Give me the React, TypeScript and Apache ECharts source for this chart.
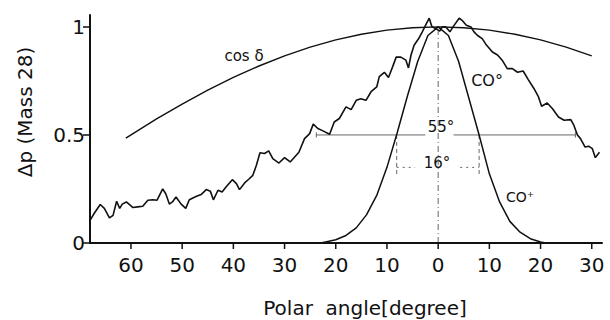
import React, { useEffect, useRef } from "react";
import * as echarts from "echarts";

// Polar angle ticks (degrees)
const xTicks = [-60, -50, -40, -30, -20, -10, 0, 10, 20, 30];
const yTicks = [0, 0.5, 1];

// CO° (measured, noisy) [angle, Δp]
const co0X = [-68, -67.1, -66, -65.2, -64.2, -63.5, -62.8, -62.2, -61.7, -60.9, -59.6, -58.7, -57.7, -56.7, -55.7, -54.9, -53.8, -53.2, -52.5, -51.9, -51.2, -50.2, -49.3, -48.6, -47.3, -46.3, -45.3, -44.5, -43.9, -43, -42.2, -41.4, -40.2, -39.4, -38.8, -37.8, -37, -36.2, -35.5, -34.8, -33.9, -33.1, -32.3, -31.1, -30, -28.9, -27.2, -26.1, -25.1, -24.4, -23.5, -22.6, -21.2, -20.3, -19.3, -18, -17, -16, -15.1, -14.1, -13.1, -12, -11.5, -10.5, -9.7, -8.9, -8.2, -7.3, -6.3, -5.8, -5.3, -4.7, -3.8, -3.1, -2.3, -1.75, -1.2, -0.3, 0.3, 0.8, 1.5, 2.3, 2.9, 4.1, 4.7, 5.5, 6.4, 7.0, 7.7, 8.6, 9.3, 10.6, 11.6, 12.5, 13.5, 14.5, 15.5, 16.6, 17.6, 18.7, 19.6, 20.2, 21.3, 22.3, 23.5, 24.6, 25.9, 26.5, 27.2, 27.8, 28.7, 29.4, 30.1, 30.7, 31.5];
const co0Y = [0.105, 0.14, 0.178, 0.16, 0.116, 0.128, 0.193, 0.16, 0.18, 0.19, 0.164, 0.167, 0.17, 0.198, 0.2, 0.198, 0.25, 0.228, 0.18, 0.19, 0.213, 0.18, 0.16, 0.2, 0.215, 0.224, 0.247, 0.24, 0.2, 0.244, 0.236, 0.26, 0.293, 0.275, 0.247, 0.278, 0.295, 0.313, 0.36, 0.418, 0.414, 0.426, 0.39, 0.37, 0.395, 0.375, 0.42, 0.483, 0.506, 0.55, 0.53, 0.52, 0.503, 0.56, 0.576, 0.63, 0.617, 0.66, 0.668, 0.66, 0.7, 0.722, 0.77, 0.79, 0.766, 0.815, 0.86, 0.86, 0.846, 0.81, 0.87, 0.915, 0.946, 0.977, 1.015, 1.04, 1.0, 0.99, 0.98, 1.0, 1.0, 0.977, 1.0, 1.04, 1.03, 1.008, 1.0, 0.977, 0.96, 0.946, 0.92, 0.884, 0.87, 0.846, 0.807, 0.807, 0.79, 0.796, 0.756, 0.715, 0.676, 0.633, 0.648, 0.622, 0.583, 0.568, 0.571, 0.545, 0.5, 0.483, 0.444, 0.448, 0.437, 0.395, 0.42];

// CO+ profile
const coPX = [-23, -22, -20, -18, -16, -14, -12, -10, -8, -6, -4, -2, 0, 2, 4, 6, 8, 10, 12, 14, 16, 18, 20, 21];
const coPY = [0, 0.005, 0.015, 0.035, 0.07, 0.13, 0.22, 0.35, 0.51, 0.68, 0.84, 0.96, 1.0, 0.96, 0.84, 0.67, 0.5, 0.32, 0.19, 0.1, 0.05, 0.02, 0.005, 0];

// cos δ curve
const cosX = [-61, -55, -50, -45, -40, -35, -30, -25, -20, -15, -10, -5, 0, 5, 10, 15, 20, 25, 30];
const cosY = [0.485, 0.574, 0.643, 0.707, 0.766, 0.819, 0.866, 0.906, 0.94, 0.966, 0.985, 0.996, 1.0, 0.996, 0.985, 0.966, 0.94, 0.906, 0.866];

// Width markers
const fwhm55 = [-23.8, 26.8];
const fwhm16 = [-8.1, 8.0];
const halfLevel = 0.5;
const dimLevel16 = 0.35;
const dropTo16 = 0.31;
const centerTop = 0.98;
const xRange = [-68, 32];

const zip = (xs: number[], ys: number[]) => xs.map((x, i) => [x, ys[i]]);

const FONT = "DejaVu Sans";

export default function App() {
  const ref = useRef<HTMLDivElement>(null);
  useEffect(() => {
    if (!ref.current) return;
    const chart = echarts.init(ref.current, null, { renderer: "svg" });
    const black = "#111";
    const grey = "#666";
    const lineSeries = (data: number[][], style: any, z = 2) => ({
      type: "line",
      data,
      showSymbol: false,
      symbol: "none",
      lineStyle: style,
      z,
      silent: true,
    });
    const textEls: any[] = [
      { type: "text", x: 244, y: 56, style: { text: "cos δ", font: `15px '${FONT}'`, fill: black, align: "center", verticalAlign: "middle" } },
      { type: "text", x: 487, y: 80, style: { text: "CO°", font: `16px '${FONT}'`, fill: black, align: "center", verticalAlign: "middle" } },
      { type: "text", x: 441, y: 127, style: { text: "55°", font: `15px '${FONT}'`, fill: black, align: "center", verticalAlign: "middle" } },
      { type: "text", x: 437, y: 163, style: { text: "16°", font: `15px '${FONT}'`, fill: black, align: "center", verticalAlign: "middle" } },
      { type: "text", x: 520, y: 197, style: { text: "CO⁺", font: `14px '${FONT}'`, fill: black, align: "center", verticalAlign: "middle" } },
      { type: "text", x: 365, y: 308, style: { text: "Polar  angle[degree]", font: `20px '${FONT}'`, fill: black, align: "center", verticalAlign: "middle" } },
      { type: "text", x: 25, y: 112, rotation: Math.PI / 2, style: { text: "Δp (Mass 28)", font: `20px '${FONT}'`, fill: black, align: "center", verticalAlign: "middle" } },
    ];
    chart.setOption({
      animation: false,
      grid: { left: 90, right: 8, top: 15, bottom: 77 },
      xAxis: {
        type: "value",
        min: xRange[0],
        max: xRange[1],
        splitLine: { show: false },
        axisLine: { show: true, onZero: false, lineStyle: { color: black, width: 2 } },
        axisTick: { show: false },
        axisLabel: {
          customValues: xTicks,
          formatter: (v: number) => String(Math.abs(v)),
          fontSize: 20,
          fontFamily: FONT,
          color: black,
          margin: 12,
        },
      },
      yAxis: {
        type: "value",
        min: 0,
        max: 1.055,
        splitLine: { show: false },
        axisLine: { show: true, onZero: false, lineStyle: { color: black, width: 2 } },
        axisTick: { show: true, customValues: yTicks, length: 7, lineStyle: { color: black, width: 1.5 } },
        axisLabel: {
          customValues: yTicks,
          formatter: (v: number) => String(v),
          fontSize: 20,
          fontFamily: FONT,
          color: black,
          margin: 5,
        },
      },
      series: [
        lineSeries(zip(cosX, cosY), { color: black, width: 1.4 }),
        lineSeries(zip(coPX, coPY), { color: black, width: 1.5 }),
        lineSeries(zip(co0X, co0Y), { color: black, width: 1.6 }),
        lineSeries([[fwhm55[0], halfLevel], [-2.5, halfLevel]], { color: grey, width: 1 }, 1),
        lineSeries([[3, halfLevel], [fwhm55[1], halfLevel]], { color: grey, width: 1 }, 1),
        lineSeries([[fwhm55[0], halfLevel - 0.012], [fwhm55[0], halfLevel + 0.012]], { color: grey, width: 1 }, 1),
        lineSeries([[fwhm55[1], halfLevel - 0.012], [fwhm55[1], halfLevel + 0.012]], { color: grey, width: 1 }, 1),
        lineSeries([[fwhm16[0], halfLevel], [fwhm16[0], dropTo16]], { color: grey, width: 1, type: [4, 3] }, 1),
        lineSeries([[fwhm16[1], halfLevel], [fwhm16[1], dropTo16]], { color: grey, width: 1, type: [4, 3] }, 1),
        lineSeries([[fwhm16[0], dimLevel16], [-4.5, dimLevel16]], { color: grey, width: 1, type: [2, 4] }, 1),
        lineSeries([[4.3, dimLevel16], [fwhm16[1], dimLevel16]], { color: grey, width: 1, type: [2, 4] }, 1),
        lineSeries([[0, 0], [0, centerTop]], { color: grey, width: 1, type: [6, 3, 1, 3] }, 1),
      ],
      graphic: textEls,
    });

    // x-axis baseline and ticks, positioned through the chart's own scales
    const toPx = (x: number, y: number) => chart.convertToPixel({ gridIndex: 0 }, [x, y]) as number[];
    const a = toPx(xRange[0], 0);
    const b = toPx(xRange[1], 0);
    const axisEls: any[] = [];
    if (a && b && isFinite(a[0]) && isFinite(b[0])) {
      axisEls.push({
        type: "line",
        z: 100,
        silent: true,
        shape: { x1: a[0], y1: a[1], x2: b[0], y2: b[1] },
        style: { stroke: black, lineWidth: 2 },
      });
      xTicks.forEach((t) => {
        const p = toPx(t, 0);
        axisEls.push({
          type: "line",
          z: 100,
          silent: true,
          shape: { x1: p[0], y1: p[1], x2: p[0], y2: p[1] + 6 },
          style: { stroke: black, lineWidth: 1.5 },
        });
      });
    }
    chart.setOption({ graphic: [...textEls, ...axisEls] });
    return () => chart.dispose();
  }, []);
  return <div ref={ref} style={{ width: 610, height: 320, position: "absolute", left: 0, top: 0 }} />;
}
